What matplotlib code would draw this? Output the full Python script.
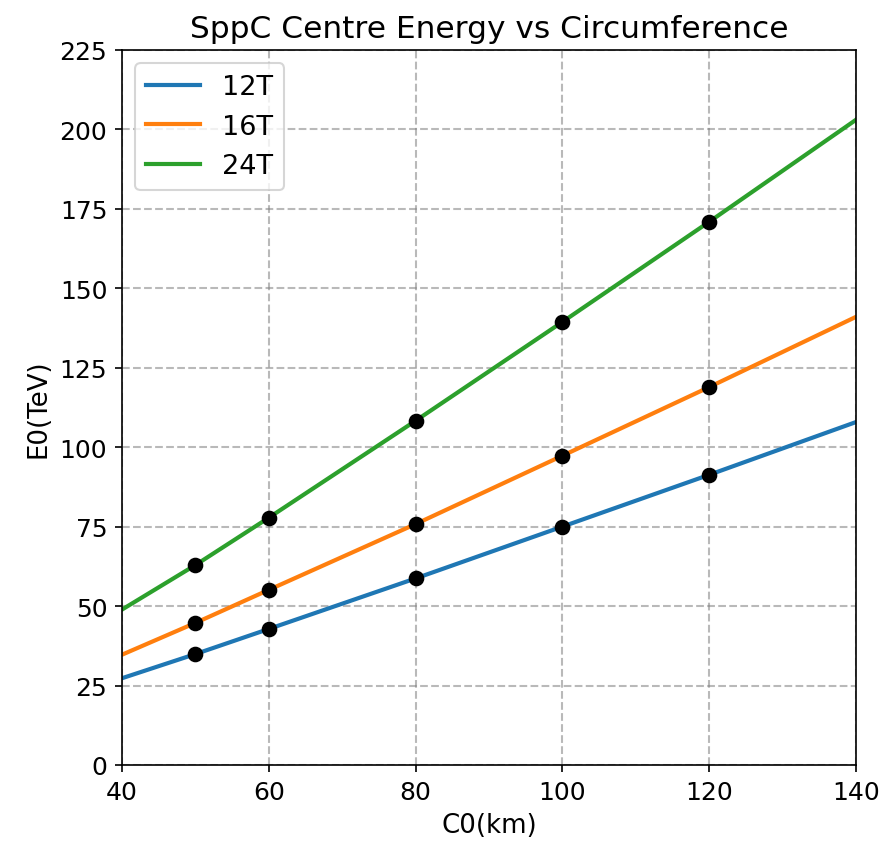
import numpy as np
import matplotlib.pyplot as plt

# circumference (km) at which the curves are drawn
c_line = [40, 50, 60, 80, 100, 120, 140]
e12_line = [27.3, 34.9, 42.8, 58.7, 75.0, 91.3, 107.9]
e16_line = [34.7, 44.7, 55.1, 75.8, 97.3, 118.9, 141.0]
e24_line = [48.9, 62.9, 77.8, 108.3, 139.4, 170.9, 203.0]

# data points
c_pts = [50, 60, 80, 100, 120]
e12_pts = [34.9, 42.8, 58.7, 75.0, 91.3]
e16_pts = [44.7, 55.1, 75.8, 97.3, 118.9]
e24_pts = [62.9, 77.8, 108.3, 139.4, 170.9]

fig = plt.figure(figsize=(5.913, 5.653), dpi=150)
ax = fig.add_axes([0.1375, 0.0967, 0.8275, 0.8433])

ax.plot(c_line, e12_line, label='12T', linewidth=2)
ax.plot(c_line, e16_line, label='16T', linewidth=2)
ax.plot(c_line, e24_line, label='24T', linewidth=2)
for e in (e12_pts, e16_pts, e24_pts):
    ax.plot(c_pts, e, 'ko', markersize=6.5)

ax.set_xlim(40, 140)
ax.set_ylim(0, 225)
ax.set_yticks(np.arange(0, 226, 25))
ax.grid(True, linestyle='--', linewidth=1.0, color='gray', alpha=0.55)
ax.legend(loc='upper left', fontsize=13)
ax.set_xlabel('C0(km)', fontsize=12.5)
ax.set_ylabel('E0(TeV)', fontsize=12.5)
ax.set_title('SppC Centre Energy vs Circumference', fontsize=15)
ax.tick_params(labelsize=12)

plt.savefig('out.png')
